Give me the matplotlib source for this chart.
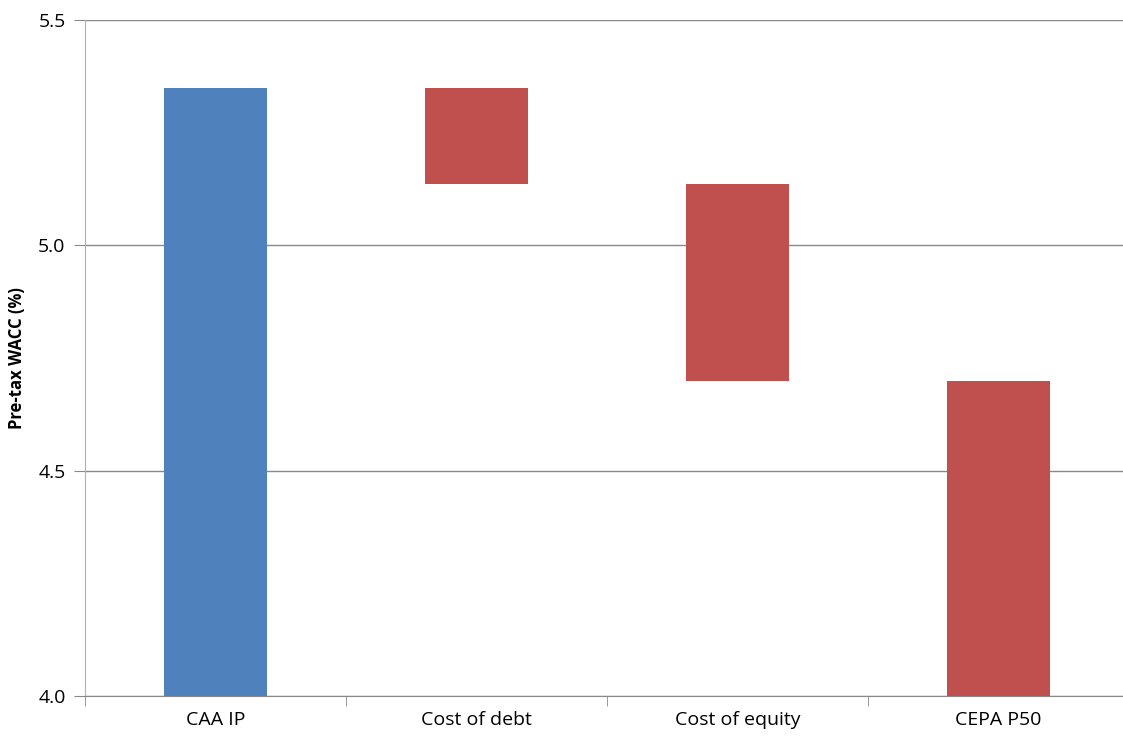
import numpy as np
import matplotlib.pyplot as plt

plt.rcParams['font.family'] = ['Open Sans', 'DejaVu Sans']

# Waterfall of pre-tax WACC, CAA IP down to CEPA P50
categories = ['CAA IP', 'Cost of debt', 'Cost of equity', 'CEPA P50']
start_value = 5.35
changes = [-0.215, -0.435]
end_value = 4.70
axis_floor = 4.0

blue = '#4F81BD'
red = '#C0504D'
grid_col = '#898989'

# bottoms and tops of each floating bar
levels = np.concatenate([[start_value], start_value + np.cumsum(changes)])
bottoms = [axis_floor] + list(np.minimum(levels[:-1], levels[1:])) + [axis_floor]
tops = [start_value] + list(np.maximum(levels[:-1], levels[1:])) + [end_value]
heights = np.array(tops) - np.array(bottoms)
colors = [blue, red, red, red]

fig = plt.figure(figsize=(11.23, 7.37), dpi=100)
ax = fig.add_axes([85 / 1123, 1 - 696 / 737, 1044 / 1123, 676 / 737])

x = np.arange(len(categories))
ax.bar(x, heights, bottom=bottoms, width=0.395, color=colors, zorder=3)

ax.set_xlim(-0.5, len(categories) - 0.5)
ax.set_ylim(4.0, 5.5)
ax.set_yticks([4.0, 4.5, 5.0, 5.5])
ax.set_yticklabels(['4.0', '4.5', '5.0', '5.5'], fontsize=14)
ax.yaxis.grid(True, color=grid_col, linewidth=1, zorder=0)

# category labels centred, tick marks between categories
ax.set_xticks(x)
ax.set_xticklabels(categories, fontsize=14)
ax.tick_params(axis='x', length=0, pad=11)
ax.set_xticks(np.arange(-0.5, len(categories)), minor=True)
ax.tick_params(axis='x', which='minor', length=7, color=grid_col, direction='out')
ax.tick_params(axis='y', length=8, color=grid_col, pad=6)

for side in ['top', 'right']:
    ax.spines[side].set_visible(False)
ax.spines['left'].set_color('#B0B0B0')
ax.spines['bottom'].set_color(grid_col)

ax.set_ylabel('Pre-tax WACC (%)', fontsize=12, fontweight='bold', labelpad=9)

fig.savefig('out.png', dpi=100)
